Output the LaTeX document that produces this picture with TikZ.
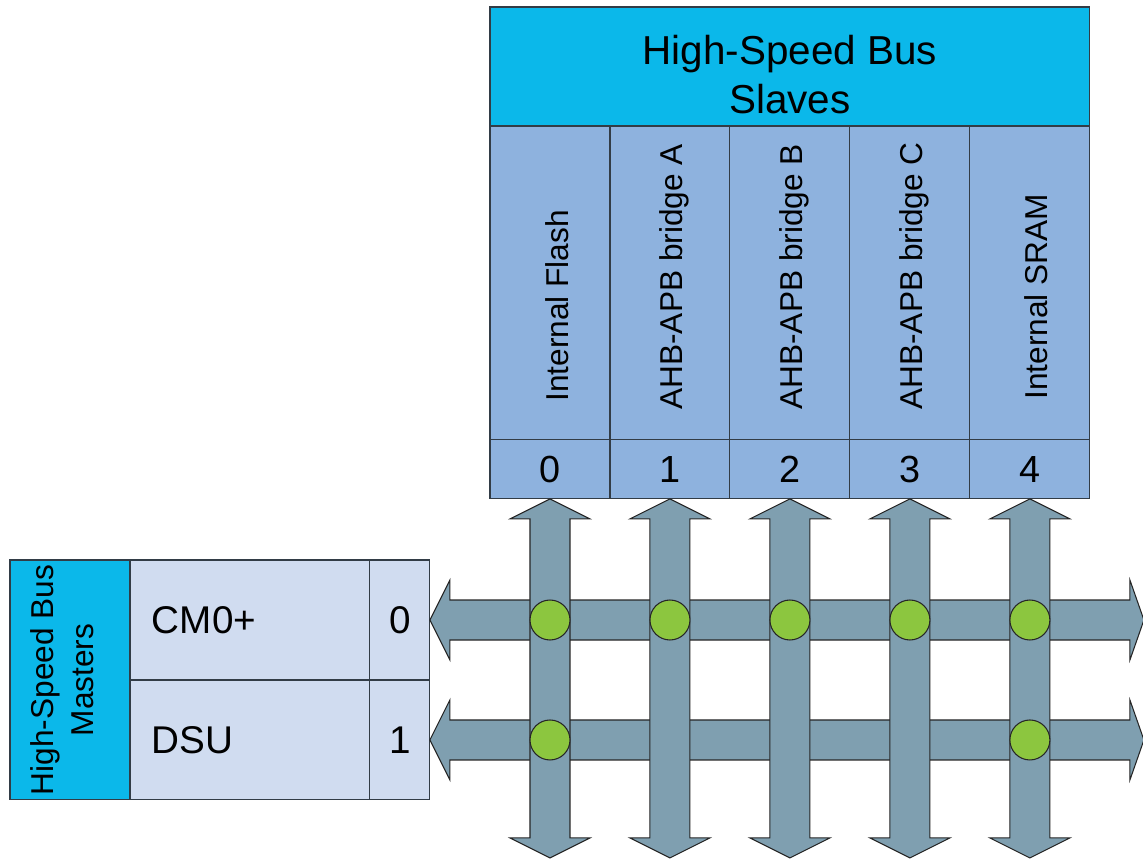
\documentclass[tikz,border=0pt]{standalone}
\usepackage{fontspec}
\setmainfont{Liberation Sans}
\usepackage{tikz}
\usetikzlibrary{calc}
\usetikzlibrary{positioning}

\definecolor{hsbcyan}{RGB}{11,184,234}
\definecolor{slaveblue}{RGB}{142,178,222}
\definecolor{masterblue}{RGB}{208,220,240}
\definecolor{busgray}{RGB}{127,159,176}
\definecolor{hubgreen}{RGB}{140,198,63}
\definecolor{edgegray}{RGB}{50,60,70}

\begin{document}
\begin{tikzpicture}[x=0.02cm,y=-0.02cm]
        \tikzset{box/.style={draw=edgegray,line width=0.6pt,inner sep=0pt,outer sep=0pt},
        slavecol/.style={box,fill=slaveblue,minimum width=2.4cm,minimum height=6.28cm},
        slavenum/.style={box,fill=slaveblue,minimum width=2.4cm,minimum height=1.18cm,font=\fontsize{21.5}{25}\selectfont},
        slavename/.style={rotate=90,anchor=base west,inner sep=0pt,font=\fontsize{18}{21.6}\selectfont},
        mastername/.style={box,fill=masterblue,minimum height=2.4cm,text width=3.92cm,inner xsep=0.44cm,align=left,font=\fontsize{22}{26}\selectfont},
        masternum/.style={box,fill=masterblue,minimum width=1.2cm,minimum height=2.4cm,font=\fontsize{22}{26}\selectfont},
        bus/.style={draw=black!85,fill=busgray,line width=0.6pt},
        hub/.style={circle,draw=black!85,fill=hubgreen,line width=0.6pt,minimum size=0.8cm,inner sep=0pt},
        vbus/.pic={\draw[bus] (0,0) -- ++(40,20) -- ++(-20,0) -- ++(0,319) -- ++(20,0) -- ++(-40,20) -- ++(-40,-20) -- ++(20,0) -- ++(0,-319) -- ++(-20,0) -- cycle;},
        hbus/.pic={\draw[bus] (0,0) -- ++(20,-40) -- ++(0,20) -- ++(680,0) -- ++(0,-20) -- ++(14,40) -- ++(-14,40) -- ++(0,-20) -- ++(-680,0) -- ++(0,20) -- cycle;}}
        
        \useasboundingbox (0,0) rectangle (1143,860);
        
        %Slaves
        \node[box,fill=hsbcyan,anchor=north west,minimum width=12cm,minimum height=2.38cm] (slaves) at (490,7) {};
        \node[align=center,font=\fontsize{23}{27.5}\selectfont] (slavestitle) at ($(slaves.center)+(0,8)$) {High-Speed Bus\\Slaves};
        
        \node[slavecol,anchor=north west] (col0) at (slaves.south west) {};
        \node[slavecol,right=0pt of col0] (col1) {};
        \node[slavecol,right=0pt of col1] (col2) {};
        \node[slavecol,right=0pt of col2] (col3) {};
        \node[slavecol,right=0pt of col3] (col4) {};
        
        \node[slavenum,below=0pt of col0] (n0) {0};
        \node[slavenum,below=0pt of col1] (n1) {1};
        \node[slavenum,below=0pt of col2] (n2) {2};
        \node[slavenum,below=0pt of col3] (n3) {3};
        \node[slavenum,below=0pt of col4] (n4) {4};
        
        \node[slavename] (flash) at ($(col0.south)+(19,-38)$) {Internal Flash};
        \node[slavename] (bridgea) at ($(col1.south)+(13,-30)$) {AHB-APB bridge A};
        \node[slavename] (bridgeb) at ($(col2.south)+(13,-30)$) {AHB-APB bridge B};
        \node[slavename] (bridgec) at ($(col3.south)+(13,-30)$) {AHB-APB bridge C};
        \node[slavename] (sram) at ($(col4.south)+(18,-40)$) {Internal SRAM};
        
        %Masters
        \node[box,fill=hsbcyan,anchor=north west,minimum width=2.4cm,minimum height=4.8cm] (masters) at (10,560) {};
        \node[rotate=90,align=center,font=\fontsize{18}{22.7}\selectfont] (masterstitle) at ($(masters.center)+(-8,0)$) {High-Speed Bus\\Masters};
        \node[mastername,anchor=north west] (cm0) at (masters.north east) {CM0+};
        \node[masternum,right=0pt of cm0] (m0) {0};
        \node[mastername,below=0pt of cm0] (dsu) {DSU};
        \node[masternum,right=0pt of dsu] (m1) {1};
        
        %buses
        \pic at (m0.east) {hbus};
        \pic at (m1.east) {hbus};
        \pic at (n0.south) {vbus};
        \pic at (n1.south) {vbus};
        \pic at (n2.south) {vbus};
        \pic at (n3.south) {vbus};
        \pic at (n4.south) {vbus};
        
        %crossings
        \node[hub] (h00) at (col0 |- m0) {};
        \node[hub] (h10) at (col1 |- m0) {};
        \node[hub] (h20) at (col2 |- m0) {};
        \node[hub] (h30) at (col3 |- m0) {};
        \node[hub] (h40) at (col4 |- m0) {};
        \node[hub] (h01) at (col0 |- m1) {};
        \node[hub] (h41) at (col4 |- m1) {};
\end{tikzpicture}
\end{document}
